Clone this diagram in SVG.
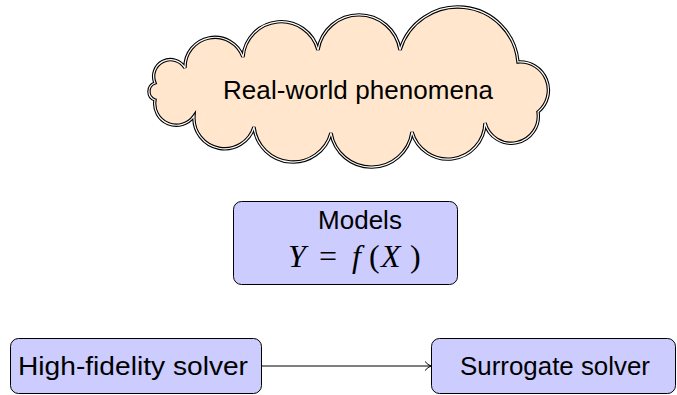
<svg xmlns="http://www.w3.org/2000/svg" width="677" height="395" viewBox="0 0 677 395">
<defs>
<style>
.lbl{font-family:"Liberation Sans",Arial,sans-serif;font-size:26px;fill:#000;text-anchor:middle}
.box{fill:#ccccff;stroke:#000;stroke-width:1}
.math{font-family:"Liberation Serif","Times New Roman",serif;font-size:32px;fill:#000}
.it{font-style:italic}
</style>
<path id="cloudPath" d="M185,68 A29.9,29.9 0 0,1 243,57 A38.2,38.2 0 0,1 318,50 A41.5,41.5 0 0,1 400,50 A60.4,60.4 0 0,1 518,62 A28.2,28.2 0 0,1 538,112 A27.1,27.1 0 0,1 485,123 A37.2,37.2 0 0,1 412,132 A41,41 0 0,1 331,133 A39.3,39.3 0 0,1 254,127 A30.7,30.7 0 0,1 194,116 A21.6,21.6 0 0,1 155,100 A9,9 0 0,1 155,83 A16.8,16.8 0 0,1 185,68 Z"/>
<marker id="arr" markerWidth="12" markerHeight="12" refX="10" refY="6" orient="auto" markerUnits="userSpaceOnUse">
<path d="M4,1.5 Q7,5 10,6 Q7,7 4,10.5" fill="none" stroke="#000" stroke-width="1"/>
</marker>
</defs>
<g id="connectors">
<line x1="261" y1="366" x2="431" y2="366" stroke="#000" stroke-width="1" marker-end="url(#arr)"/>
</g>
<g id="cloud">
<use href="#cloudPath" fill="#ffe6cc" stroke="#000" stroke-width="3.4" stroke-linejoin="miter"/>
<use href="#cloudPath" fill="none" stroke="#fff" stroke-width="1.2"/>
<text class="lbl" x="358" y="99" textLength="270" lengthAdjust="spacing">Real-world phenomena</text>
</g>
<g id="models">
<rect class="box" x="233.5" y="201.5" width="224" height="83" rx="8"/>
<text class="lbl" x="360" y="229">Models</text>
<text class="math" y="267"><tspan class="it" x="288">Y</tspan><tspan x="319">=</tspan><tspan class="it" x="352">f</tspan><tspan x="369">(</tspan><tspan class="it" x="381">X</tspan><tspan x="410">)</tspan></text>
</g>
<g id="highfidelity">
<rect class="box" x="10.5" y="338.5" width="251" height="55" rx="8"/>
<text class="lbl" x="133" y="375" textLength="230" lengthAdjust="spacingAndGlyphs">High-fidelity solver</text>
</g>
<g id="surrogate">
<rect class="box" x="431.5" y="338.5" width="244" height="55" rx="8"/>
<text class="lbl" x="555" y="375" textLength="190" lengthAdjust="spacingAndGlyphs">Surrogate solver</text>
</g>
</svg>
